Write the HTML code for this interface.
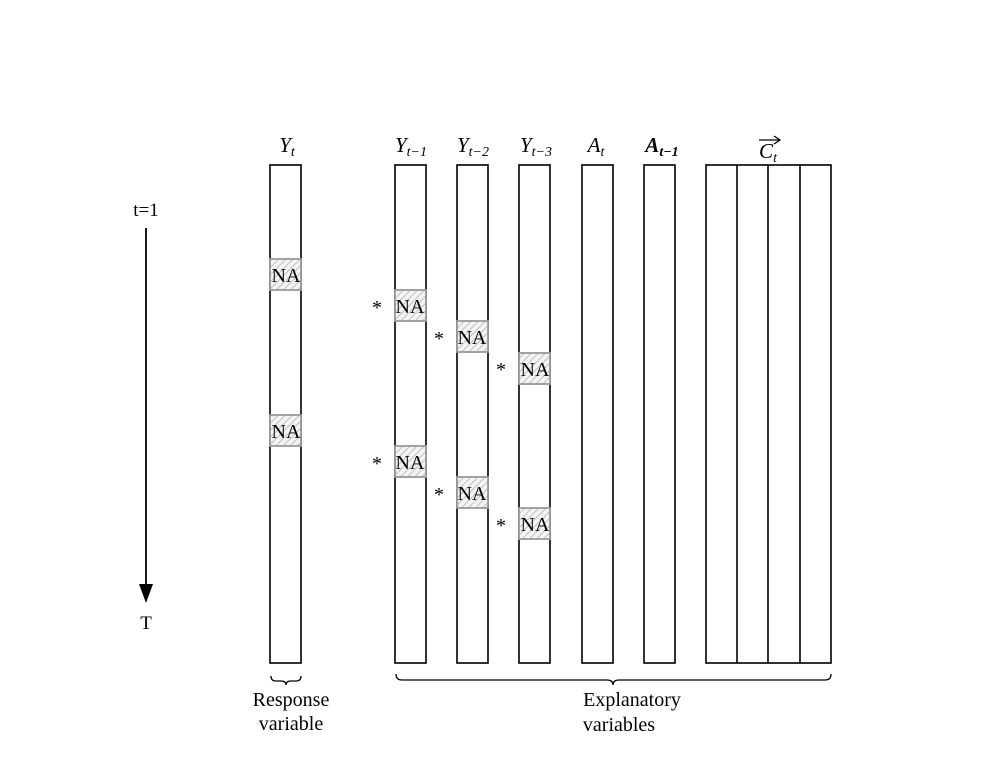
<!DOCTYPE html>
<html><head><meta charset="utf-8"><style>
html,body{margin:0;padding:0;background:#fff;}
svg text{font-family:"Liberation Serif",serif;fill:#000;}
</style></head><body>
<svg width="988" height="776" viewBox="0 0 988 776" xmlns="http://www.w3.org/2000/svg">
<defs>
<pattern id="h" width="5" height="5" patternUnits="userSpaceOnUse" patternTransform="rotate(45)">
<rect width="5" height="5" fill="#f4f4f4"/>
<line x1="0" y1="0" x2="0" y2="5" stroke="#aaa" stroke-width="1.4"/>
</pattern>
</defs>
<g fill="none" stroke="#000" stroke-width="1.6">
<rect x="270" y="165" width="31" height="498"/>
<rect x="395" y="165" width="31" height="498"/>
<rect x="457" y="165" width="31" height="498"/>
<rect x="519" y="165" width="31" height="498"/>
<rect x="582" y="165" width="31" height="498"/>
<rect x="644" y="165" width="31" height="498"/>
<rect x="706" y="165" width="125" height="498"/>
<line x1="737" y1="165" x2="737" y2="663"/>
<line x1="768" y1="165" x2="768" y2="663"/>
<line x1="800" y1="165" x2="800" y2="663"/>
</g>
<g stroke="#999" stroke-width="1.8" fill="url(#h)">
<rect x="270" y="259" width="31" height="31"/>
<rect x="270" y="415" width="31" height="31"/>
<rect x="395" y="290" width="31" height="31"/>
<rect x="395" y="446" width="31" height="31"/>
<rect x="457" y="321" width="31" height="31"/>
<rect x="457" y="477" width="31" height="31"/>
<rect x="519" y="353" width="31" height="31"/>
<rect x="519" y="508" width="31" height="31"/>
</g>
<g font-size="20" text-anchor="middle">
<text x="286" y="282">NA</text>
<text x="286" y="438">NA</text>
<text x="410" y="313">NA</text>
<text x="410" y="469">NA</text>
<text x="472" y="344">NA</text>
<text x="472" y="500">NA</text>
<text x="535" y="376">NA</text>
<text x="535" y="531">NA</text>
</g>
<g font-size="20" text-anchor="middle">
<text x="377" y="314">*</text>
<text x="377" y="470">*</text>
<text x="439" y="345">*</text>
<text x="439" y="501">*</text>
<text x="501" y="376">*</text>
<text x="501" y="532">*</text>
</g>
<g font-size="21" font-style="italic" text-anchor="middle">
<text x="287" y="152">Y<tspan font-size="14" dy="4">t</tspan></text>
<text x="411" y="152">Y<tspan font-size="14" dy="4">t−1</tspan></text>
<text x="473" y="152">Y<tspan font-size="14" dy="4">t−2</tspan></text>
<text x="536" y="152">Y<tspan font-size="14" dy="4">t−3</tspan></text>
<text x="596" y="152">A<tspan font-size="14" dy="4">t</tspan></text>
<text x="662" y="152" font-weight="bold">A<tspan font-size="14" dy="4">t−1</tspan></text>
<text x="768" y="158">C<tspan font-size="14" dy="4">t</tspan></text>
</g>
<g stroke="#000" stroke-width="1.3" fill="none">
<line x1="759" y1="140" x2="779" y2="140"/>
<path d="M774 136 L780 140 L774 144"/>
</g>
<text x="146" y="216" font-size="19" text-anchor="middle">t=1</text>
<line x1="146" y1="228" x2="146" y2="588" stroke="#000" stroke-width="1.8"/>
<polygon points="139,584 153,584 146,603" fill="#000"/>
<text x="146" y="629" font-size="19" text-anchor="middle">T</text>
<g stroke="#000" stroke-width="1.3" fill="none">
<path d="M271 676 Q271 681 276 681 L281 681 Q286 681 286 685 Q286 681 291 681 L296 681 Q301 681 301 676"/>
<path d="M396 674 Q396 680 402 680 L607 680 Q613 680 613 685 Q613 680 619 680 L825 680 Q831 680 831 674"/>
</g>
<g font-size="20" text-anchor="middle">
<text x="291" y="706">Response</text>
<text x="291" y="730">variable</text>
<text x="632" y="706">Explanatory</text>
<text x="619" y="731">variables</text>
</g>
</svg>
</body></html>
